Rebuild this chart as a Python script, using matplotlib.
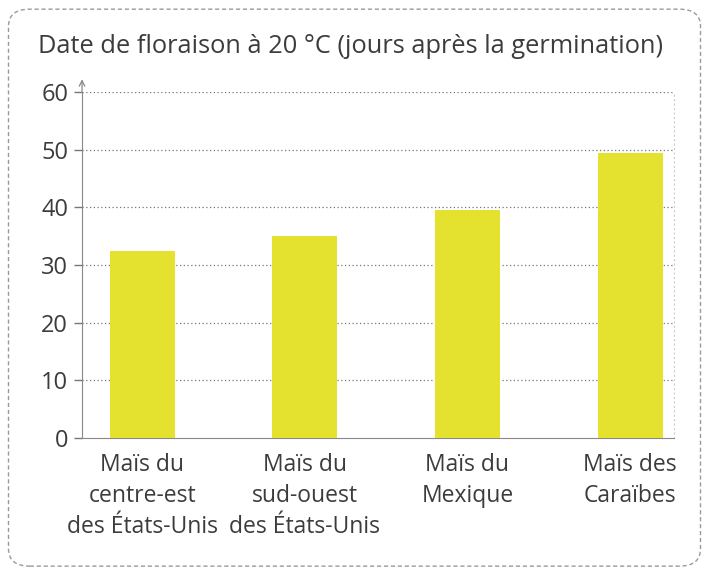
import matplotlib
matplotlib.use("Agg")
import matplotlib.pyplot as plt
from matplotlib.patches import FancyBboxPatch

# data
categories = ["Maïs du\ncentre-est\ndes États-Unis",
              "Maïs du\nsud-ouest\ndes États-Unis",
              "Maïs du\nMexique",
              "Maïs des\nCaraïbes"]
jours = [32.5, 35, 39.5, 49.5]
yticks = [0, 10, 20, 30, 40, 50, 60]

plt.rcParams['font.family'] = ['Open Sans', 'DejaVu Sans']
txt = "#3c3c3c"
bar_col = "#e4e22e"

fig = plt.figure(figsize=(7.09, 5.73), dpi=100)

# rounded dashed frame around everything
frame = FancyBboxPatch((0.012, 0.012), 0.976, 0.972, boxstyle="round,pad=0,rounding_size=0.03",
                       transform=fig.transFigure, facecolor="none", edgecolor="#9a9a9a",
                       linestyle=(0, (3, 2)), linewidth=1.0, zorder=-1)
fig.patches.append(frame)

ax = fig.add_axes([0.1157, 0.2356, 0.835, 0.6038])
ax.set_facecolor("none")

x = list(range(len(categories)))
ax.bar(x, jours, width=0.40, color=bar_col, zorder=3)

ax.set_xlim(-0.37, 3.27)
ax.set_ylim(0, 60)
ax.set_yticks(yticks)
ax.set_xticks(x)
ax.set_xticklabels(categories, fontsize=16.5, color=txt, linespacing=1.38)
ax.tick_params(axis="x", length=0, pad=11)
ax.tick_params(axis="y", length=6, width=1, color="#777777", labelsize=17, labelcolor=txt, pad=4)

for v in yticks[1:]:
    ax.axhline(v, color="#777777", linestyle=(0, (1, 2)), linewidth=0.9, zorder=1)

ax.spines["top"].set_visible(False)
ax.spines["right"].set_color("#cccccc")
ax.spines["right"].set_linestyle((0, (1, 3)))
ax.spines["left"].set_color("#888888")
ax.spines["left"].set_linestyle((0, (2, 1)))
ax.spines["bottom"].set_color("#888888")
ax.spines["bottom"].set_linestyle((0, (2, 1)))

# arrow on top of the y axis
ax.annotate("", xy=(0, 1.045), xytext=(0, 0.99), xycoords="axes fraction",
            arrowprops=dict(arrowstyle="->", color="#888888", lw=0.9))

fig.text(0.054, 0.918, "Date de floraison à 20 °C (jours après la germination)",
         fontsize=18.3, color=txt, ha="left", va="center")

fig.savefig("out.png", dpi=100)
